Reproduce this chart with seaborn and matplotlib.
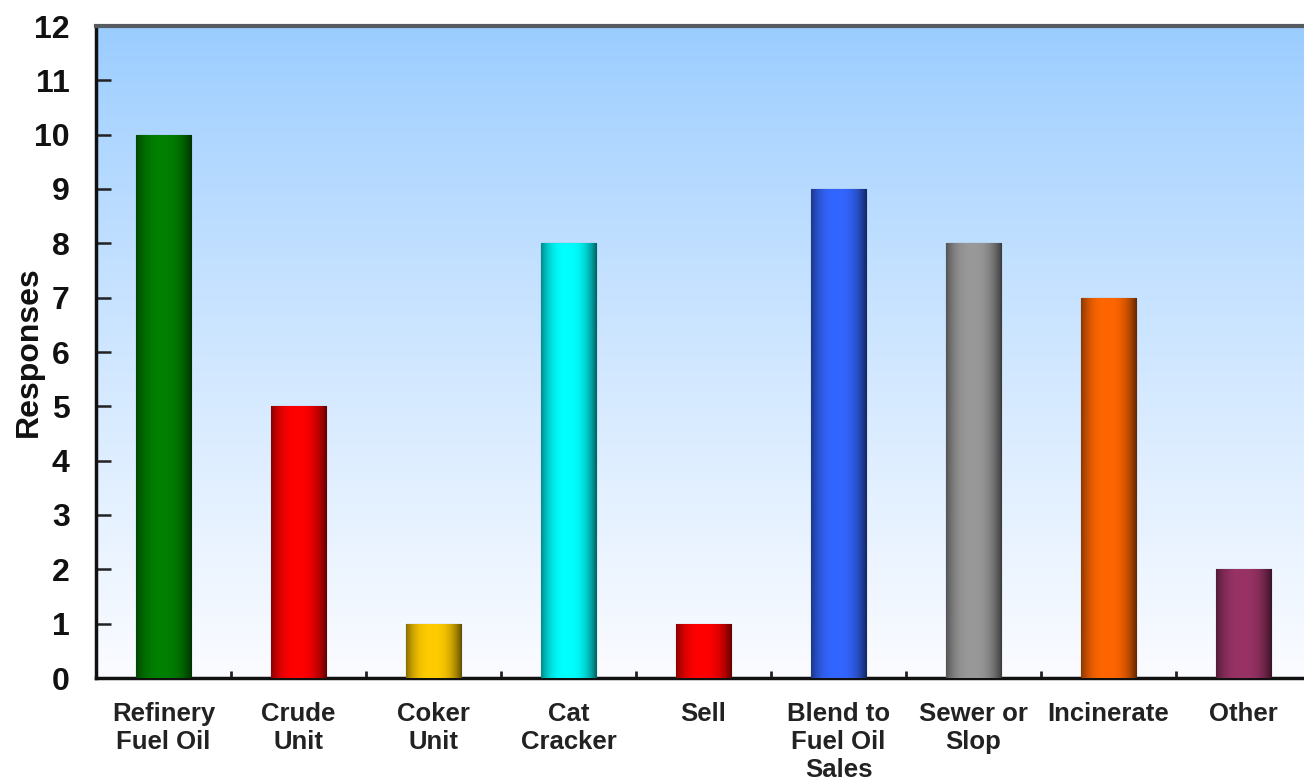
import numpy as np
import pandas as pd
import matplotlib
matplotlib.use("Agg")
import matplotlib.pyplot as plt
from matplotlib.colors import to_rgb
import seaborn as sns

categories = ["Refinery\nFuel Oil", "Crude\nUnit", "Coker\nUnit", "Cat\nCracker", "Sell",
              "Blend to\nFuel Oil\nSales", "Sewer or\nSlop", "Incinerate", "Other"]
responses = [10, 5, 1, 8, 1, 9, 8, 7, 2]
bar_colors = ["#008000", "#FF0000", "#FFCC00", "#00FFFF", "#FF0000",
              "#3366FF", "#999999", "#FF6600", "#993366"]
y_ticks = list(range(0, 13))

sns.set_theme(style="white")
plt.rcParams["font.family"] = ["Liberation Sans", "DejaVu Sans"]
plt.rcParams["font.weight"] = "bold"

df = pd.DataFrame({"category": categories, "responses": responses})

W, H = 1304, 784
fig = plt.figure(figsize=(W / 100, H / 100), dpi=100)
fig.patch.set_facecolor("white")
left_px, right_px, top_px, bot_px = 96, 1311, 26, 678
ax = fig.add_axes([left_px / W, (H - bot_px) / H,
                   (right_px - left_px) / W, (bot_px - top_px) / H])

sns.barplot(data=df, x="category", y="responses", hue="category",
            palette=bar_colors, width=0.41, legend=False, ax=ax,
            edgecolor="#1a1a1a", linewidth=0.8, zorder=3)

# background gradient
top_c = np.array(to_rgb("#99CCFF"))
bot_c = np.array(to_rgb("#FBFCFF"))
t = np.linspace(0, 1, 256)[:, None]
tt = t ** 0.85
grad = top_c[None, None, :] * (1 - tt[..., None]) + bot_c[None, None, :] * tt[..., None]
grad = np.repeat(grad, 2, axis=1)
ax.imshow(grad, extent=[0, 1, 0, 1], transform=ax.transAxes, aspect="auto",
          zorder=0, interpolation="bilinear")

# cylinder shading on bars
xs = np.linspace(0, 1, 128)
shade = 1.0 - 0.62 * np.abs(2 * (xs - 0.47) / 1.06) ** 2.6
shade = np.clip(shade, 0, 1)
for patch, col in zip(ax.patches, bar_colors):
    base = np.array(to_rgb(col))
    img = np.clip(base[None, :] * shade[:, None], 0, 1)[None, :, :]
    x0, y0 = patch.get_x(), patch.get_y()
    w, h = patch.get_width(), patch.get_height()
    im = ax.imshow(img, extent=[x0, x0 + w, y0, y0 + h], aspect="auto",
                   zorder=3.5, interpolation="bilinear")
    im.set_clip_path(patch)

ax.set_xlim(-0.5, len(categories) - 0.5)
ax.set_ylim(0, 12)
ax.set_yticks(y_ticks)
ax.set_yticklabels([str(v) for v in y_ticks], fontsize=23, fontweight="bold", color="#111111")
ax.set_xticks(range(len(categories)))
ax.set_xticklabels(categories, fontsize=18.5, fontweight="bold", color="#222222", linespacing=1.22)
ax.tick_params(axis="x", length=0, pad=17)
ax.set_xticks(np.arange(0.5, len(categories) - 0.5, 1), minor=True)
ax.tick_params(axis="x", which="minor", direction="in", length=5, width=2, color="#222222", bottom=True)
ax.tick_params(axis="y", direction="in", length=11, width=1.8, color="#222222", pad=19, left=True)

ax.set_xlabel("")
ax.set_ylabel("Responses", fontsize=23, fontweight="bold", color="#111111")
ax.yaxis.set_label_coords((44 - left_px) / (right_px - left_px), 0.5)

for s in ["left", "bottom"]:
    ax.spines[s].set_color("#111111")
    ax.spines[s].set_linewidth(2.5)
ax.spines["top"].set_color("#555b60")
ax.spines["top"].set_linewidth(3)
ax.spines["right"].set_visible(False)

fig.savefig("out.png", dpi=100, facecolor="white")
